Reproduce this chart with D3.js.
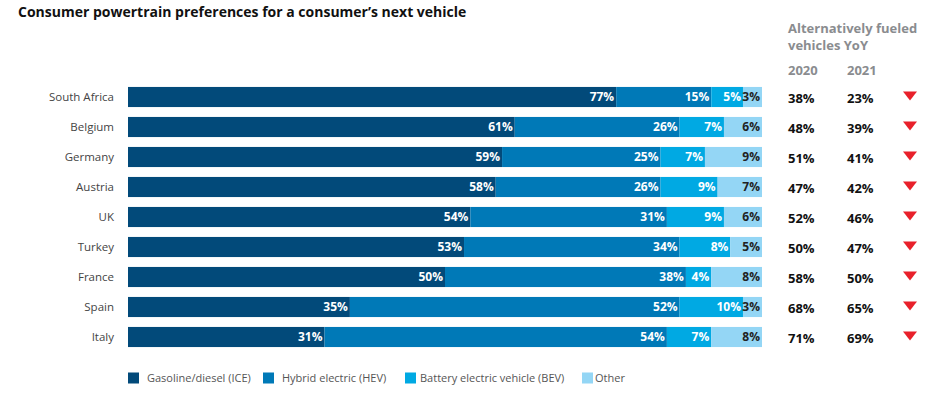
<!DOCTYPE html>
<html>
<head>
<meta charset="utf-8">
<script src="https://cdn.jsdelivr.net/npm/d3@7"></script>
<style>
  body { margin: 0; background: #fff; font-family: "Open Sans", sans-serif; }
</style>
</head>
<body>
<div id="chart"></div>
<script>
// data
const countries = ["South Africa", "Belgium", "Germany", "Austria", "UK", "Turkey", "France", "Spain", "Italy"]
const ice   = [77, 61, 59, 58, 54, 53, 50, 35, 31]
const hev   = [15, 26, 25, 26, 31, 34, 38, 52, 54]
const bev   = [5, 7, 7, 9, 9, 8, 4, 10, 7]
const other = [3, 6, 9, 7, 6, 5, 8, 3, 8]
const yoy2020 = [38, 48, 51, 47, 52, 50, 58, 68, 71]
const yoy2021 = [23, 39, 41, 42, 46, 47, 50, 65, 69]
const seriesNames = ["Gasoline/diesel (ICE)", "Hybrid electric (HEV)", "Battery electric vehicle (BEV)", "Other"]

const W = 948, H = 393
const svg = d3.select("#chart").append("svg")
    .attr("width", W).attr("height", H)

const keys = ["ice", "hev", "bev", "other"]
const color = d3.scaleOrdinal()
    .domain(keys)
    .range(["#024a7a", "#0079b7", "#00a9e3", "#94d6f5"])

const rows = countries.map((c, i) => ({country: c, ice: ice[i], hev: hev[i], bev: bev[i], other: other[i]}))
const stacked = d3.stack().keys(keys)(rows)

const x = d3.scaleLinear().domain([0, 100]).range([128, 762])
const y = d3.scaleBand().domain(countries).range([82, 352]).paddingInner(0.33).paddingOuter(0.165)

// title
svg.append("text")
    .attr("x", 18).attr("y", 17)
    .style("font-size", "14px").style("font-weight", "700").style("fill", "#111")
    .text("Consumer powertrain preferences for a consumer\u2019s next vehicle")

// bars
const layer = svg.selectAll(".layer")
  .data(stacked)
  .join("g")
    .attr("class", "layer")
    .attr("fill", d => color(d.key))

layer.selectAll("rect")
  .data(d => d)
  .join("rect")
    .attr("x", d => x(d[0]))
    .attr("y", d => y(d.data.country))
    .attr("width", d => x(d[1]) - x(d[0]))
    .attr("height", y.bandwidth())

layer.selectAll("text")
  .data(d => d.map(v => Object.assign(v, {key: d.key})))
  .join("text")
    .attr("x", d => x(d[1]) - 2)
    .attr("y", d => y(d.data.country) + y.bandwidth() / 2)
    .attr("dy", "0.35em")
    .attr("text-anchor", "end")
    .style("font-size", "12px").style("font-weight", "700")
    .style("fill", d => d.key === "other" ? "#222" : "#fff")
    .text(d => (d[1] - d[0]) + "%")

// country labels
svg.append("g").selectAll("text")
  .data(countries)
  .join("text")
    .attr("x", 114)
    .attr("y", d => y(d) + y.bandwidth() / 2)
    .attr("dy", "0.35em")
    .attr("text-anchor", "end")
    .style("font-size", "11.5px").style("fill", "#444")
    .text(d => d)

// right side table
const grey = "#8a8c8f"
svg.append("text").attr("x", 788).attr("y", 33)
    .style("font-size", "13px").style("font-weight", "700").style("fill", grey)
    .text("Alternatively fueled")
svg.append("text").attr("x", 788).attr("y", 50)
    .style("font-size", "13px").style("font-weight", "700").style("fill", grey)
    .text("vehicles YoY")
svg.append("text").attr("x", 788).attr("y", 75)
    .style("font-size", "13px").style("font-weight", "700").style("fill", grey)
    .text("2020")
svg.append("text").attr("x", 847).attr("y", 75)
    .style("font-size", "13px").style("font-weight", "700").style("fill", grey)
    .text("2021")

const tbl = svg.append("g")
tbl.selectAll(".v20")
  .data(yoy2020)
  .join("text")
    .attr("class", "v20")
    .attr("x", 788)
    .attr("y", (d, i) => y(countries[i]) + y.bandwidth() / 2 + 1)
    .attr("dy", "0.35em")
    .style("font-size", "13px").style("font-weight", "700").style("fill", "#111")
    .text(d => d + "%")
tbl.selectAll(".v21")
  .data(yoy2021)
  .join("text")
    .attr("class", "v21")
    .attr("x", 847)
    .attr("y", (d, i) => y(countries[i]) + y.bandwidth() / 2 + 1)
    .attr("dy", "0.35em")
    .style("font-size", "13px").style("font-weight", "700").style("fill", "#111")
    .text(d => d + "%")

// down arrows (2021 lower than 2020)
tbl.selectAll("path")
  .data(yoy2021.map((v, i) => ({v, prev: yoy2020[i], c: countries[i]})))
  .join("path")
    .attr("transform", d => `translate(910, ${y(d.c) + y.bandwidth() / 2 - 1})`)
    .attr("d", d => d.v < d.prev ? "M-7,-4.5L7,-4.5L0,4.5Z" : "M-7,4.5L7,4.5L0,-4.5Z")
    .attr("fill", "#e8212a")

// legend
const legendX = [128, 263, 405, 582]
const legendTextX = [147, 282, 420, 595]
const legend = svg.append("g").selectAll("g")
  .data(seriesNames)
  .join("g")
legend.append("rect")
    .attr("x", (d, i) => legendX[i]).attr("y", 372.5)
    .attr("width", 11).attr("height", 11)
    .attr("fill", (d, i) => color(keys[i]))
legend.append("text")
    .attr("x", (d, i) => legendTextX[i]).attr("y", 378).attr("dy", "0.35em")
    .style("font-size", "11px").style("fill", "#555")
    .text(d => d)
</script>
</body>
</html>
